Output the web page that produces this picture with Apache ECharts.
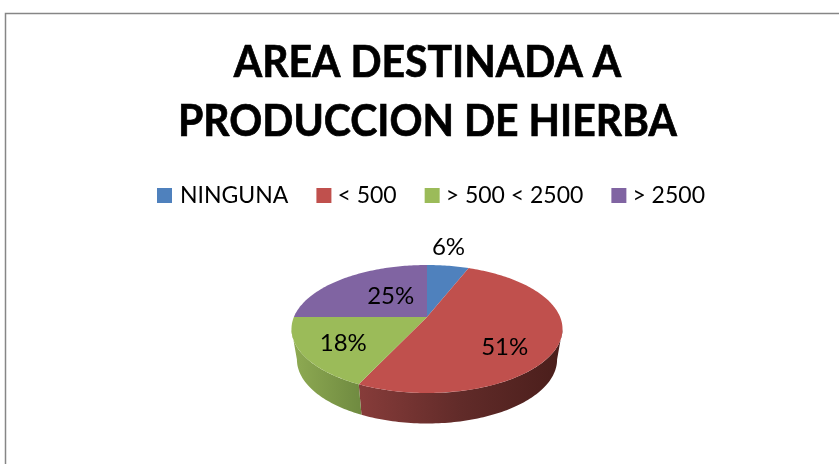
<!DOCTYPE html>
<html><head><meta charset="utf-8">
<style>html,body{margin:0;padding:0;background:#fff}#c{width:839px;height:464px}</style>
<script src="https://cdn.jsdelivr.net/npm/echarts@6/dist/echarts.min.js"></script>
</head><body><div id="c"></div>
<script>
const titleText = 'AREA DESTINADA A\nPRODUCCION DE HIERBA';
const categories = ['NINGUNA', '< 500', '> 500 < 2500', '> 2500'];
const values = [6, 51, 18, 25];
const colors = ['#4F81BD', '#C0504D', '#9BBB59', '#8064A2'];
const sideStops = [
  ['#3b6190', '#2c4a6e'],
  ['#873c3a', '#612b29', '#4a1e1b'],
  ['#8fab53', '#6f8a40'],
  ['#614c7c', '#4c3b61']
];
const labelShift = [[8, -37], [1, 15], [-12, 5], [16, 4]];

const apexX = 427, apexY = 317, A = 133.1, B = 61.75, K = 0.1875, DEPTH = 30.5, BASE_SHRINK = 0.96;
const total = values.reduce((a, b) => a + b, 0);
const FRONT_START = Math.acos(-K), FRONT_END = 2 * Math.PI - FRONT_START;
function project(theta, r) {
  const X = r * Math.sin(theta), Y = -r * Math.cos(theta), s = 1 / (1 - K * Y);
  return [apexX + A * X * s, apexY + B * Y * s];
}
function arc(t0, t1) {
  const n = Math.max(2, Math.ceil((t1 - t0) / 0.02)), pts = [];
  for (let i = 0; i <= n; i++) pts.push(project(t0 + (t1 - t0) * i / n, 1));
  return pts;
}
function renderSlice(index) {
  return function (params, api) {
    const start = api.value(0), val = api.value(1);
    const t0 = start / total * 2 * Math.PI, t1 = (start + val) / total * 2 * Math.PI;
    const rim = arc(t0, t1);
    const children = [];
    const s0 = Math.max(t0, FRONT_START), s1 = Math.min(t1, FRONT_END);
    if (s1 > s0) {
      const top = arc(s0, s1);
      const lower = top.map(p => [apexX + (p[0] - apexX) * BASE_SHRINK, p[1] + DEPTH]).reverse();
      const stops = sideStops[index];
      const grad = new echarts.graphic.LinearGradient(0, 0, 1, 0,
        stops.map((c, i) => ({ offset: i / (stops.length - 1), color: c })));
      children.push({ type: 'polygon', z2: 1, shape: { points: top.concat(lower) }, style: { fill: grad } });
    }
    const mid = (t0 + t1) / 2, lp = project(mid, 0.6), sh = labelShift[index];
    children.push(
      { type: 'polygon', z2: 2, shape: { points: [[apexX, apexY]].concat(rim) }, style: { fill: colors[index] } },
      { type: 'text', z2: 3, x: lp[0] + sh[0], y: lp[1] + sh[1],
        style: { text: val + '%', fill: '#000', font: '24px Lato', align: 'center', verticalAlign: 'middle' } }
    );
    return { type: 'group', children };
  };
}
let cum = 0;
const series = categories.map((name, i) => {
  const s = {
    type: 'custom', name, coordinateSystem: 'none', silent: true,
    renderItem: renderSlice(i),
    data: [[cum, values[i]]],
    itemStyle: { color: colors[i] }
  };
  cum += values[i];
  return s;
});
const chart = echarts.init(document.getElementById('c'), null, { renderer: 'canvas' });
chart.setOption({
  animation: false,
  backgroundColor: '#fff',
  color: colors,
  legend: {
    data: categories.map((name, i) => ({ name, textStyle: { padding: i === 0 ? [0, 0, 0, 3] : [0, 2, 0, 1] } })),
    left: 157, top: 184, padding: 0, icon: 'rect', itemWidth: 15, itemHeight: 15, itemGap: 28,
    textStyle: { fontFamily: 'Lato', fontSize: 23, color: '#000' }
  },
  graphic: [
    { type: 'rect', silent: true, shape: { x: 5.5, y: 13.5, width: 900, height: 600 },
      style: { fill: 'none', stroke: '#868686', lineWidth: 1.5 }, z: -1 },
    { type: 'text', silent: true, x: 427.5, y: 92.5, scaleX: 0.93, originX: 0, originY: 0,
      style: { text: titleText, fill: '#000', stroke: '#000', lineWidth: 0.7, font: 'bold 44px Lato', lineHeight: 59, align: 'center', verticalAlign: 'middle' } }
  ],
  series
});
</script></body></html>
